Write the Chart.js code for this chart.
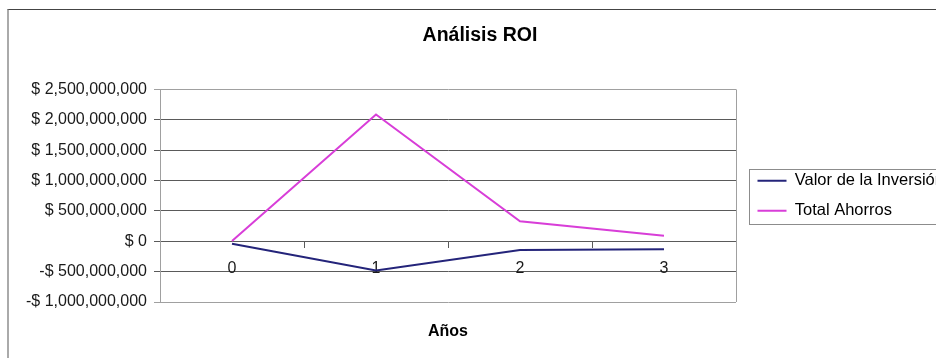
<!DOCTYPE html>
<html>
<head>
<meta charset="utf-8">
<title>Análisis ROI</title>
<script src="https://cdn.jsdelivr.net/npm/chart.js@4.4.1/dist/chart.umd.min.js"></script>
<style>
  html, body { margin: 0; padding: 0; background: #fff; overflow: hidden; }
  #frame { position: absolute; left: 7px; top: 9px; width: 1000px; height: 400px;
           border-top: 1px solid #444; border-left: 2px solid #aaa; }
  #wrap { position: absolute; left: 0; top: 0; width: 936px; height: 358px; }
</style>
</head>
<body>
<div id="frame"></div>
<div id="wrap"><canvas id="roi" width="936" height="358"></canvas></div>
<script>
// Years of the projection
const years = ['0', '1', '2', '3'];
// Investment value per year (negative = outflow)
const investmentValue = [-40000000, -480000000, -143000000, -131000000];
// Total savings per year
const totalSavings = [5000000, 2087000000, 328000000, 92000000];
// Value axis range
const yMin = -1000000000;
const yMax = 2500000000;
const yStep = 500000000;

const FONT = '"Liberation Sans", Arial, Helvetica, sans-serif';
const INNER_GRID = '#5a5a5a';
const FRAME_GRID = '#a0a0a0';

function money(v) {
  const s = Math.abs(v).toLocaleString('en-US');
  return (v < 0 ? '-$ ' : '$ ') + s;
}

// Grey right edge of the plot area
const plotFrame = {
  id: 'plotFrame',
  beforeDatasetsDraw(chart) {
    const {ctx, chartArea: a} = chart;
    ctx.save();
    ctx.strokeStyle = FRAME_GRID;
    ctx.lineWidth = 1;
    ctx.beginPath();
    ctx.moveTo(Math.round(a.right) + 0.5, a.top);
    ctx.lineTo(Math.round(a.right) + 0.5, a.bottom);
    ctx.stroke();
    ctx.restore();
  }
};

// Outline box around the legend entries
const legendFrame = {
  id: 'legendFrame',
  afterDraw(chart) {
    const lg = chart.legend;
    if (!lg || !lg.legendHitBoxes || !lg.legendHitBoxes.length) return;
    const hb = lg.legendHitBoxes;
    const top = hb[0].top - 3;
    const last = hb[hb.length - 1];
    const bottom = last.top + last.height + 5;
    const left = lg.left + 5;
    const ctx = chart.ctx;
    ctx.save();
    ctx.strokeStyle = '#8c8c8c';
    ctx.lineWidth = 1;
    ctx.strokeRect(Math.round(left) + 0.5, Math.round(top) + 0.5, 400, Math.round(bottom - top));
    ctx.restore();
  }
};

new Chart(document.getElementById('roi'), {
  type: 'line',
  data: {
    labels: years,
    datasets: [
      {
        label: 'Valor de la Inversión',
        data: investmentValue,
        borderColor: '#24247a',
        backgroundColor: '#24247a',
        borderWidth: 2,
        pointRadius: 0,
        tension: 0
      },
      {
        label: 'Total Ahorros',
        data: totalSavings,
        borderColor: '#d83ed8',
        backgroundColor: '#d83ed8',
        borderWidth: 2,
        pointRadius: 0,
        tension: 0
      }
    ]
  },
  options: {
    responsive: false,
    animation: false,
    layout: { padding: { left: 24, right: 0, top: 0, bottom: 0 } },
    plugins: {
      title: {
        display: true,
        text: 'Análisis ROI',
        color: '#000',
        font: { family: FONT, size: 19.5, weight: 'bold' },
        padding: { top: 24, bottom: 42 }
      },
      legend: {
        display: true,
        position: 'right',
        fullSize: false,
        maxWidth: 192,
        align: 'center',
        labels: {
          usePointStyle: true,
          pointStyle: 'line',
          pointStyleWidth: 29,
          padding: 13.5,
          color: '#000',
          font: { family: FONT, size: 16.5 }
        }
      },
      tooltip: { enabled: false }
    },
    scales: {
      x: {
        type: 'category',
        position: { y: 0 },
        offset: true,
        grid: {
          display: true,
          offset: true,
          drawOnChartArea: false,
          drawTicks: true,
          tickLength: 6,
          color: INNER_GRID
        },
        border: { display: true, color: INNER_GRID },
        ticks: {
          color: '#1a1a1a',
          padding: 11.4,
          maxRotation: 0,
          font: { family: FONT, size: 16 }
        }
      },
      xTitle: {
        type: 'category',
        position: 'bottom',
        labels: years,
        grid: { display: false, drawTicks: false },
        border: { display: false },
        ticks: { display: false },
        title: {
          display: true,
          text: 'Años',
          color: '#000',
          font: { family: FONT, size: 16, weight: 'bold' },
          padding: { top: 20.4, bottom: 16.4 }
        }
      },
      y: {
        type: 'linear',
        position: 'left',
        min: yMin,
        max: yMax,
        ticks: {
          stepSize: yStep,
          padding: 7,
          color: '#1a1a1a',
          font: { family: FONT, size: 16 },
          callback: (v) => money(v)
        },
        grid: {
          color: (c) => (c.tick && (c.tick.value === yMax || c.tick.value === yMin)) ? FRAME_GRID : INNER_GRID,
          tickLength: 6,
          drawTicks: true
        },
        border: { display: true, color: FRAME_GRID },
        afterFit: (s) => { s.width = 136; }
      },
      ySpacer: {
        type: 'linear',
        position: 'right',
        display: true,
        grid: { display: false, drawTicks: false },
        border: { display: false },
        ticks: { display: false },
        afterFit: (s) => { s.width = 8; }
      }
    }
  },
  plugins: [plotFrame, legendFrame]
});
</script>
</body>
</html>
